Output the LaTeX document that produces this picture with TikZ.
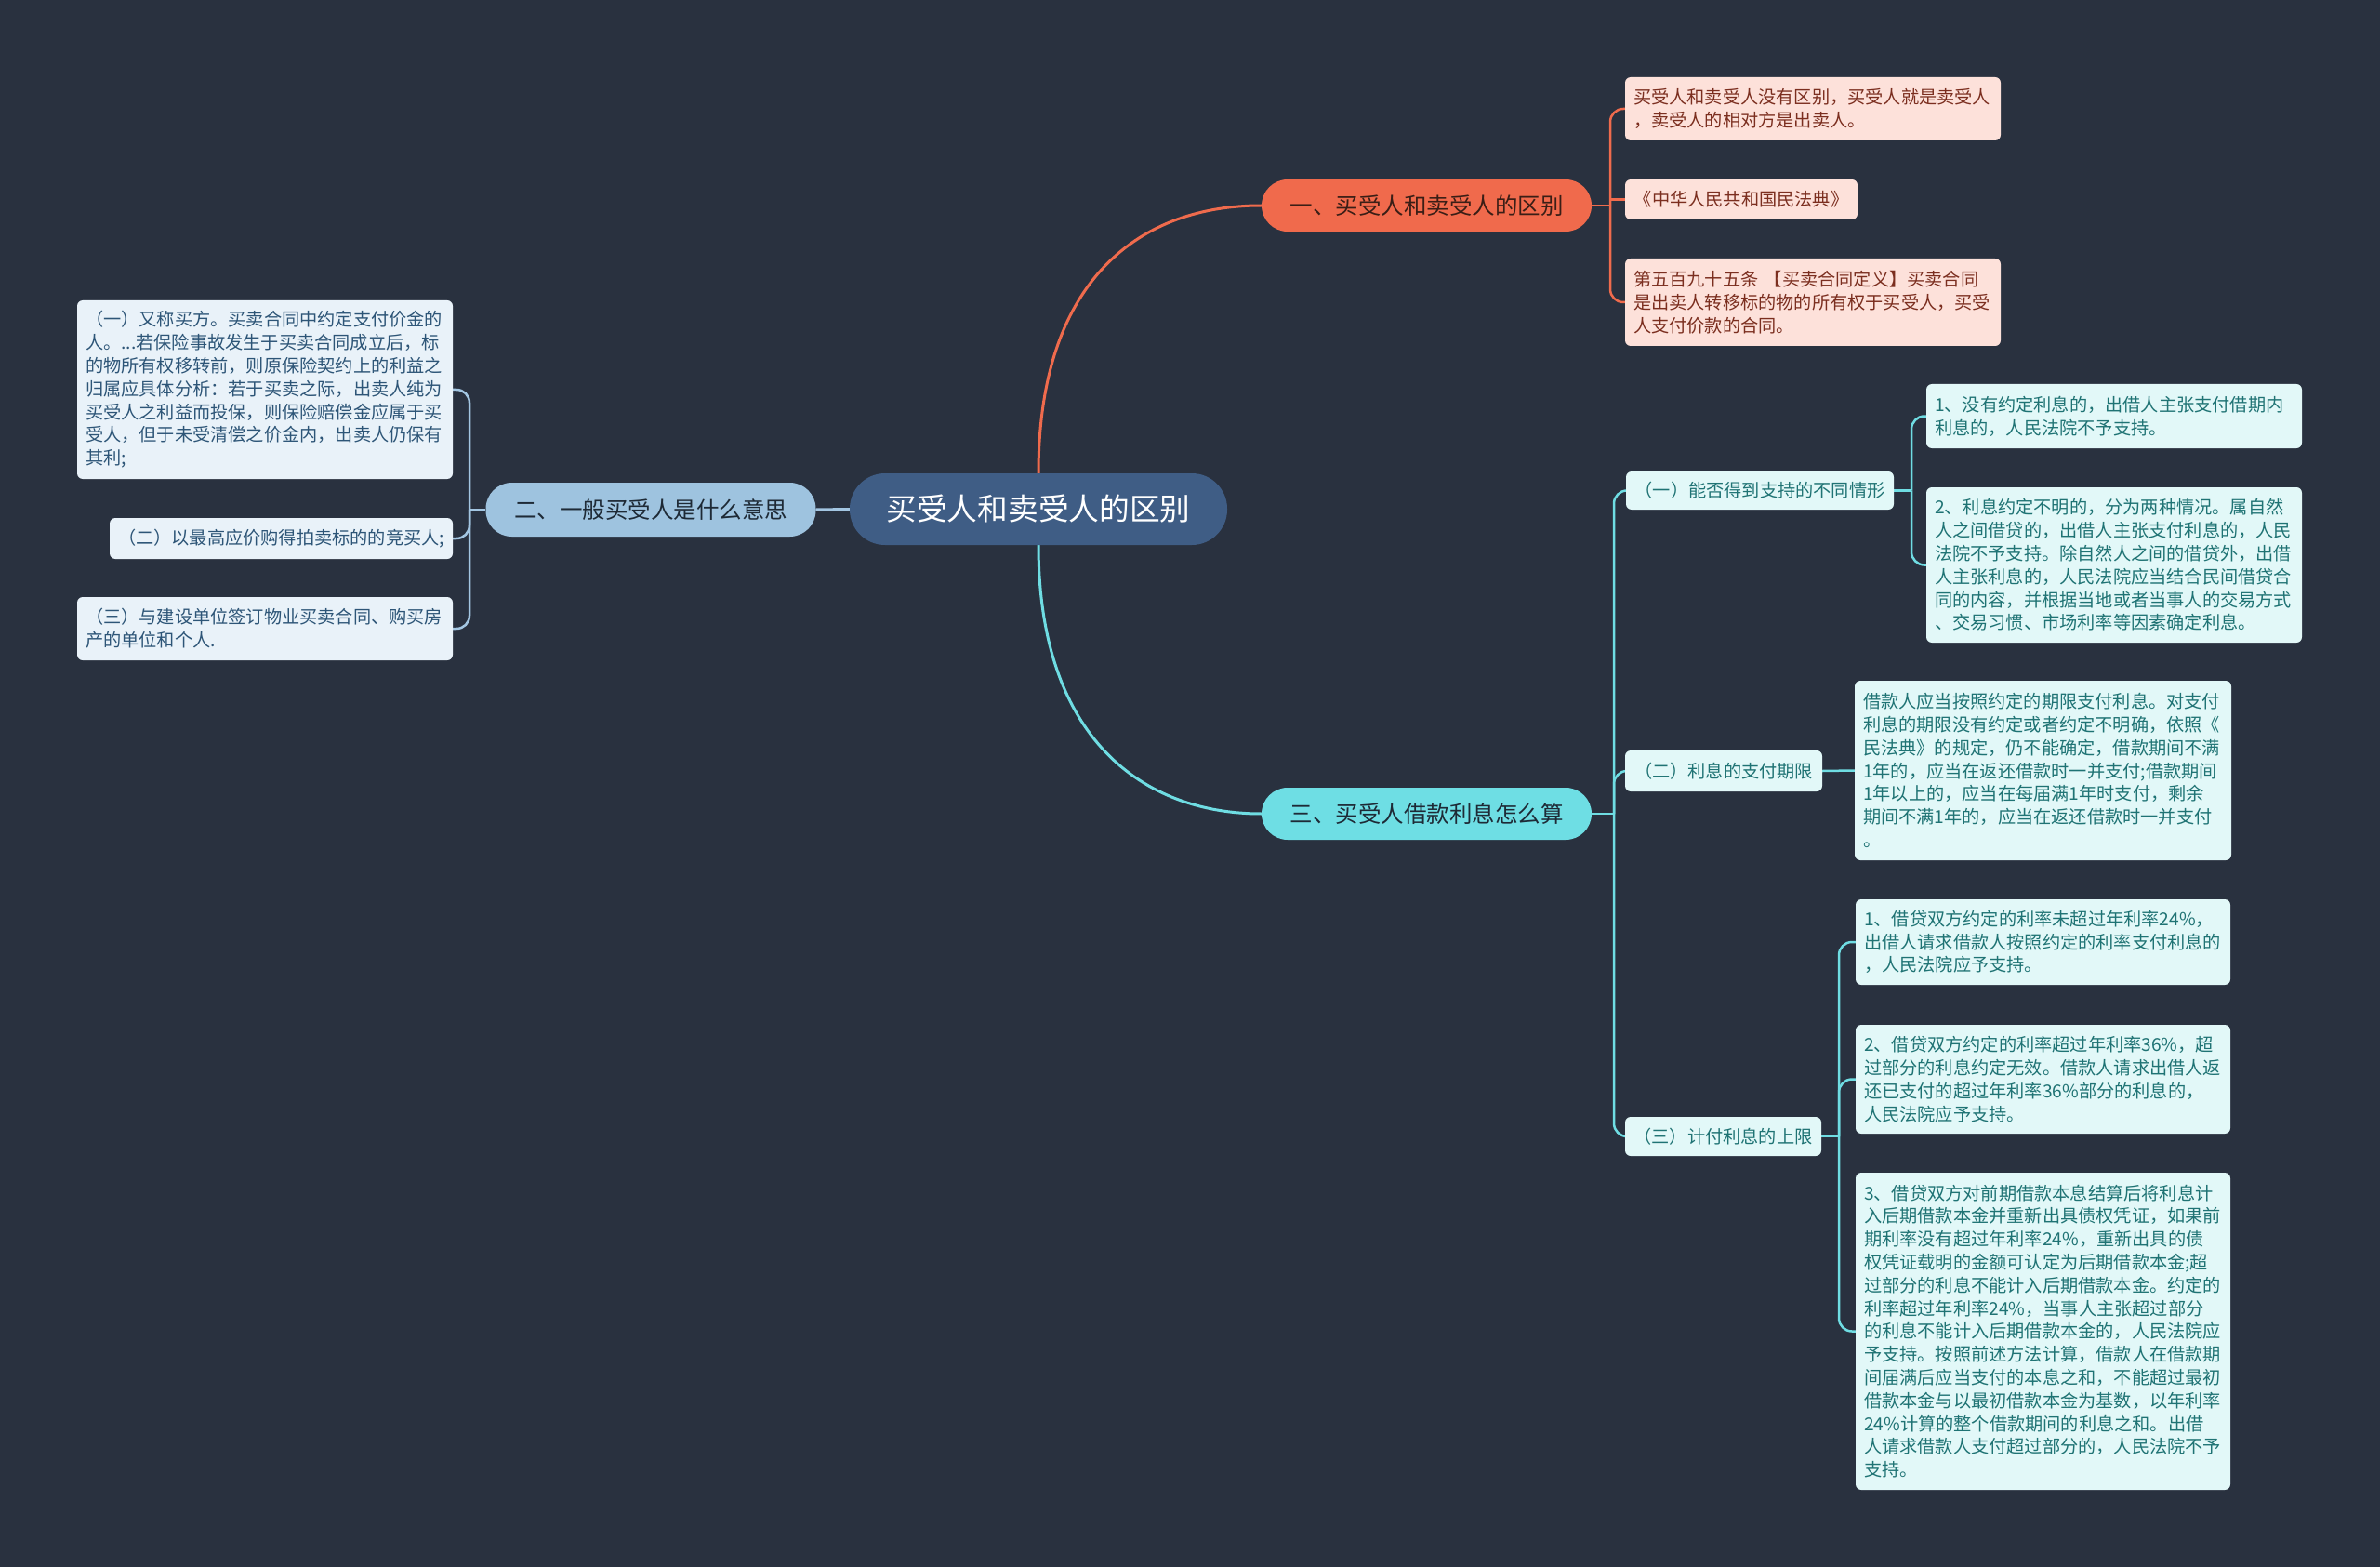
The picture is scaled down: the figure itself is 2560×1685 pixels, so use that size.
\documentclass[tikz,border=0pt]{standalone}
\usepackage{fontspec}
\setmainfont{Noto Sans CJK SC}
\definecolor{bg}{HTML}{29313F}
\definecolor{rootfill}{HTML}{3F5D85}
\definecolor{redfill}{HTML}{F06A4C}
\definecolor{redtext}{HTML}{3A1E16}
\definecolor{bluefill}{HTML}{9EC3DF}
\definecolor{cyanfill}{HTML}{6EDEE4}
\definecolor{darktext}{HTML}{1E2A36}
\definecolor{pinkfill}{HTML}{FDE1DA}
\definecolor{pinktext}{HTML}{7B2E1F}
\definecolor{paleblue}{HTML}{E9F2F9}
\definecolor{paleblue text}{HTML}{2D5577}
\definecolor{palecyan}{HTML}{E2F8F8}
\definecolor{tealtext}{HTML}{1F7374}
\definecolor{redline}{HTML}{EF6B4D}
\definecolor{blueline}{HTML}{A3C6E2}
\definecolor{cyanline}{HTML}{6FDDE3}
\pgfdeclarelayer{bgl}
\pgfdeclarelayer{edges}
\pgfsetlayers{bgl,edges,main}
\begin{document}
\begin{tikzpicture}[x=1pt,y=-1pt,
  small/.style={font=\fontsize{19.2}{24.8}\selectfont},
  rootbox/.style={fill=rootfill,text=white,rounded corners=38,minimum width=406,minimum height=77,inner sep=0,font=\fontsize{32.7}{38}\selectfont},
  branchbox/.style={rounded corners=28,minimum width=355,minimum height=56,inner sep=0,text=darktext,font=\fontsize{24.5}{30}\selectfont},
  leafbox/.style={small,rounded corners=6,inner xsep=9,inner ysep=0,align=left},
  pinkleaf/.style={leafbox,fill=pinkfill,text=pinktext},
  blueleaf/.style={leafbox,fill=paleblue,text=paleblue text},
  cyanleaf/.style={leafbox,fill=palecyan,text=tealtext},
  subbox/.style={small,rounded corners=6,inner sep=0,fill=palecyan,text=tealtext},
  rededge/.style={draw=redline,line width=3},
  blueedge/.style={draw=blueline,line width=3},
  cyanedge/.style={draw=cyanline,line width=3},
  elbow/.style={rounded corners=14}
]
\begin{pgfonlayer}{bgl}
\fill[bg] (0,0) rectangle (2560,1685);
\end{pgfonlayer}
\useasboundingbox (0,0) rectangle (2560,1685);

% root and main branches
\node[rootbox] (root) at (1117,547.5) {买受人和卖受人的区别};
\node[branchbox,fill=redfill,text=redtext] (b1) at (1534.5,221) {一、买受人和卖受人的区别};
\node[branchbox,fill=bluefill,minimum height=58] (b2) at (700,548) {二、一般买受人是什么意思};
\node[branchbox,fill=cyanfill] (b3) at (1534.5,875) {三、买受人借款利息怎么算};

% branch 1 leaves
\node[pinkleaf,text width=386,minimum height=68] (l1a) at (1950,117) {买受人和卖受人没有区别，买受人就是卖受人\\，卖受人的相对方是出卖人。};
\node[pinkleaf,minimum width=250,minimum height=43] (l1b) at (1873,214.5) {《中华人民共和国民法典》};
\node[pinkleaf,text width=386,minimum height=94] (l1c) at (1950,325) {第五百九十五条 【买卖合同定义】买卖合同\\是出卖人转移标的物的所有权于买受人，买受\\人支付价款的合同。};

% branch 2 leaves
\node[blueleaf,text width=386,minimum height=192] (l2a) at (285,419) {（一）又称买方。买卖合同中约定支付价金的\\人。...若保险事故发生于买卖合同成立后，标\\的物所有权移转前，则原保险契约上的利益之\\归属应具体分析：若于买卖之际，出卖人纯为\\买受人之利益而投保，则保险赔偿金应属于买\\受人，但于未受清偿之价金内，出卖人仍保有\\其利;};
\node[blueleaf,minimum width=369,minimum height=44] (l2b) at (302.5,579) {（二）以最高应价购得拍卖标的的竞买人;};
\node[blueleaf,text width=386,minimum height=68] (l2c) at (285,676) {（三）与建设单位签订物业买卖合同、购买房\\产的单位和个人.};

% branch 3 sub-branches
\node[subbox,minimum width=288,minimum height=41] (s1) at (1893,527.5) {（一）能否得到支持的不同情形};
\node[subbox,minimum width=212,minimum height=44] (s2) at (1854,829) {（二）利息的支付期限};
\node[subbox,minimum width=211,minimum height=42] (s3) at (1853.5,1222) {（三）计付利息的上限};

\node[cyanleaf,text width=386,minimum height=69] (s1a) at (2274,447.5) {1、没有约定利息的，出借人主张支付借期内\\利息的，人民法院不予支持。};
\node[cyanleaf,text width=386,minimum height=167] (s1b) at (2274,607.5) {2、利息约定不明的，分为两种情况。属自然\\人之间借贷的，出借人主张支付利息的，人民\\法院不予支持。除自然人之间的借贷外，出借\\人主张利息的，人民法院应当结合民间借贷合\\同的内容，并根据当地或者当事人的交易方式\\、交易习惯、市场利率等因素确定利息。};
\node[cyanleaf,text width=387,minimum height=193] (s2a) at (2197.5,828.5) {借款人应当按照约定的期限支付利息。对支付\\利息的期限没有约定或者约定不明确，依照《\\民法典》的规定，仍不能确定，借款期间不满\\1年的，应当在返还借款时一并支付;借款期间\\1年以上的，应当在每届满1年时支付，剩余\\期间不满1年的，应当在返还借款时一并支付\\。};
\node[cyanleaf,text width=385,minimum height=92] (s3a) at (2197.5,1013) {1、借贷双方约定的利率未超过年利率24\%，\\出借人请求借款人按照约定的利率支付利息的\\，人民法院应予支持。};
\node[cyanleaf,text width=385,minimum height=117] (s3b) at (2197.5,1160.5) {2、借贷双方约定的利率超过年利率36\%，超\\过部分的利息约定无效。借款人请求出借人返\\还已支付的超过年利率36\%部分的利息的，\\人民法院应予支持。};
\node[cyanleaf,text width=385,minimum height=341] (s3c) at (2197.5,1431.5) {3、借贷双方对前期借款本息结算后将利息计\\入后期借款本金并重新出具债权凭证，如果前\\期利率没有超过年利率24\%，重新出具的债\\权凭证载明的金额可认定为后期借款本金;超\\过部分的利息不能计入后期借款本金。约定的\\利率超过年利率24\%，当事人主张超过部分\\的利息不能计入后期借款本金的，人民法院应\\予支持。按照前述方法计算，借款人在借款期\\间届满后应当支付的本息之和，不能超过最初\\借款本金与以最初借款本金为基数，以年利率\\24\%计算的整个借款期间的利息之和。出借\\人请求借款人支付超过部分的，人民法院不予\\支持。};

% junctions
\coordinate (j1) at (1732,221);
\coordinate (j2) at (505,548);
\coordinate (j3) at (1736,875);
\coordinate (j31) at (2056,527.5);
\coordinate (j33) at (1978,1222);

\begin{pgfonlayer}{edges}
% main connectors
\draw[rededge] (root.north) .. controls (1117,296) and (1230,221) .. (b1.west);
\draw[cyanedge] (root.south) .. controls (1117,795) and (1230,875) .. (b3.west);
\draw[blueedge] (root.west) -- (b2.east);

% branch 1
\draw[rededge,line width=2.5] (b1.east) -- (j1);
\draw[rededge,line width=2.5,elbow] (j1) |- (l1a.west);
\draw[rededge,line width=2.5] (j1) |- (l1b.west);
\draw[rededge,line width=2.5,elbow] (j1) |- (l1c.west);

% branch 2
\draw[blueedge,line width=2.5] (b2.west) -- (j2);
\draw[blueedge,line width=2.5,elbow] (j2) |- (l2a.east);
\draw[blueedge,line width=2.5,elbow] (j2) |- (l2b.east);
\draw[blueedge,line width=2.5,elbow] (j2) |- (l2c.east);

% branch 3
\draw[cyanedge,line width=2.5] (b3.east) -- (j3);
\draw[cyanedge,line width=2.5,elbow] (j3) |- (s1.west);
\draw[cyanedge,line width=2.5,elbow] (j3) |- (s2.west);
\draw[cyanedge,line width=2.5,elbow] (j3) |- (s3.west);

\draw[cyanedge,line width=2.5] (s1.east) -- (j31);
\draw[cyanedge,line width=2.5,elbow] (j31) |- (s1a.west);
\draw[cyanedge,line width=2.5,elbow] (j31) |- (s1b.west);

\draw[cyanedge,line width=2.5] (s2.east) -- (s2a.west);

\draw[cyanedge,line width=2.5] (s3.east) -- (j33);
\draw[cyanedge,line width=2.5,elbow] (j33) |- (s3a.west);
\draw[cyanedge,line width=2.5,elbow] (j33) |- (s3b.west);
\draw[cyanedge,line width=2.5,elbow] (j33) |- (s3c.west);
\end{pgfonlayer}
\end{tikzpicture}
\end{document}
